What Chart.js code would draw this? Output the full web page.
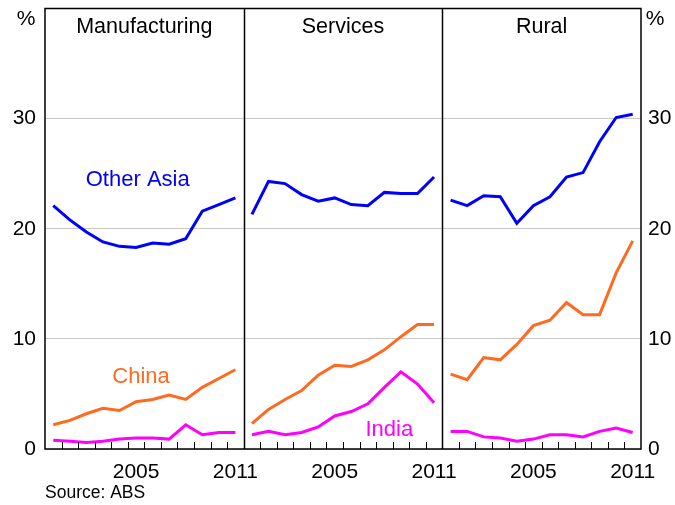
<!DOCTYPE html>
<html>
<head>
<meta charset="utf-8">
<script src="https://cdn.jsdelivr.net/npm/chart.js@4.4.1/dist/chart.umd.min.js"></script>
<style>
  html, body { margin: 0; padding: 0; background: #fff; }
  #wrap { width: 675px; height: 505px; position: relative; }
</style>
</head>
<body>
<div id="wrap"><canvas id="c" width="675" height="505"></canvas></div>
<script>
// ---- data ----
const years = ['2000','2001','2002','2003','2004','2005','2006','2007','2008','2009','2010','2011'];
const panels = ['Manufacturing', 'Services', 'Rural'];
const shownYears = ['2005', '2011'];
const yTicks = [0, 10, 20, 30];

const otherAsiaManufacturing = [22.1, 20.8, 19.7, 18.8, 18.4, 18.3, 18.7, 18.6, 19.1, 21.6, 22.2, 22.8];
const chinaManufacturing     = [2.2, 2.6, 3.2, 3.7, 3.5, 4.3, 4.5, 4.9, 4.5, 5.6, 6.4, 7.2];
const indiaManufacturing     = [0.8, 0.7, 0.6, 0.7, 0.9, 1.0, 1.0, 0.9, 2.2, 1.3, 1.5, 1.5];

const otherAsiaServices = [21.3, 24.3, 24.1, 23.1, 22.5, 22.8, 22.2, 22.1, 23.3, 23.2, 23.2, 24.7];
const chinaServices     = [2.3, 3.6, 4.5, 5.3, 6.7, 7.6, 7.5, 8.1, 9.0, 10.2, 11.3, 11.3];
const indiaServices     = [1.3, 1.6, 1.3, 1.5, 2.0, 3.0, 3.4, 4.1, 5.6, 7.0, 5.9, 4.2];

const otherAsiaRural = [22.6, 22.1, 23.0, 22.9, 20.5, 22.1, 22.9, 24.7, 25.1, 27.9, 30.1, 30.4];
const chinaRural     = [6.8, 6.3, 8.3, 8.1, 9.5, 11.2, 11.7, 13.3, 12.2, 12.2, 16.0, 18.9];
const indiaRural     = [1.6, 1.6, 1.1, 1.0, 0.7, 0.9, 1.3, 1.3, 1.1, 1.6, 1.9, 1.5];

const seriesNames = ['Other Asia', 'China', 'India'];
const seriesColors = ['#0000ff', '#ff6a21', '#ff00ff'];
const panelData = [
  [otherAsiaManufacturing, chinaManufacturing, indiaManufacturing],
  [otherAsiaServices, chinaServices, indiaServices],
  [otherAsiaRural, chinaRural, indiaRural]
];

// series label annotations: [text, panel, yearIndex, value, seriesIndex]
const seriesLabels = [
  ['Other Asia', 0, 5.1, 24.4, 0],
  ['China', 0, 5.3, 6.5, 1],
  ['India', 1, 8.3, 1.7, 2]
];

// ---- build ----
const FONT = "'Liberation Sans', Arial, Helvetica, sans-serif";
const nYears = years.length;
const labels = panels.flatMap(() => years);
const datasets = [];
panelData.forEach((series, p) => {
  series.forEach((vals, s) => {
    const arr = new Array(labels.length).fill(null);
    vals.forEach((v, i) => { arr[p * nYears + i] = v; });
    datasets.push({
      label: seriesNames[s] + ' ' + panels[p],
      data: arr,
      borderColor: seriesColors[s],
      backgroundColor: seriesColors[s],
      borderWidth: 3,
      pointRadius: 0,
      tension: 0,
      spanGaps: false,
      yAxisID: 'y'
    });
  });
});

const decor = {
  id: 'decor',
  afterDatasetsDraw(chart) {
    const ctx = chart.ctx;
    const a = chart.chartArea;
    const xs = chart.scales.x;
    const ys = chart.scales.y;
    ctx.save();
    ctx.strokeStyle = '#000';
    for (let i = 1; i < labels.length; i++) {
      const x = Math.round((xs.getPixelForValue(i - 1) + xs.getPixelForValue(i)) / 2) + 0.5;
      ctx.beginPath();
      if (i % nYears === 0) {
        ctx.lineWidth = 1.5;
        ctx.moveTo(x, a.top);
        ctx.lineTo(x, a.bottom);
      } else {
        ctx.lineWidth = 1;
        ctx.moveTo(x, a.bottom);
        ctx.lineTo(x, a.bottom - 7);
      }
      ctx.stroke();
    }
    ctx.lineWidth = 1.5;
    ctx.strokeRect(a.left, a.top, a.right - a.left, a.bottom - a.top);
    ctx.fillStyle = '#000';
    ctx.font = '21.5px ' + FONT;
    ctx.textAlign = 'center';
    ctx.textBaseline = 'middle';
    panels.forEach((t, p) => {
      const x0 = (xs.getPixelForValue(p * nYears) + xs.getPixelForValue(p * nYears + nYears - 1)) / 2;
      ctx.fillText(t, x0, 27);
    });
    ctx.font = '22px ' + FONT;
    seriesLabels.forEach(([t, p, idx, v, s]) => {
      const i0 = p * nYears + Math.floor(idx);
      const frac = idx - Math.floor(idx);
      const x = xs.getPixelForValue(i0) + frac * (xs.getPixelForValue(i0 + 1) - xs.getPixelForValue(i0));
      ctx.fillStyle = seriesColors[s];
      ctx.fillText(t, x, ys.getPixelForValue(v));
    });
    ctx.fillStyle = '#000';
    ctx.font = '21px ' + FONT;
    ctx.fillText('%', 26, 19);
    ctx.fillText('%', 655, 19);
    ctx.textAlign = 'left';
    ctx.font = '17.5px ' + FONT;
    ctx.fillText('Source: ABS', 45, 493);
    ctx.restore();
  }
};

function fitY(width) {
  return (s) => { s.width = width; s.paddingTop = 0; s.paddingBottom = 0; };
}

new Chart(document.getElementById('c'), {
  type: 'line',
  data: { labels, datasets },
  options: {
    responsive: false,
    animation: false,
    devicePixelRatio: 1,
    layout: { padding: { top: 8.5, left: 0, right: 0, bottom: 0 } },
    plugins: { legend: { display: false }, tooltip: { enabled: false } },
    scales: {
      x: {
        type: 'category',
        offset: true,
        grid: { display: false, drawTicks: false },
        border: { display: false },
        ticks: {
          autoSkip: false,
          maxRotation: 0,
          padding: 11,
          color: '#000',
          font: { family: FONT, size: 21 },
          callback: function (val) {
            const l = this.getLabelForValue(val);
            return shownYears.includes(l) ? l : '';
          }
        },
        afterFit: (s) => { s.height = 56; s.paddingLeft = 0; s.paddingRight = 0; }
      },
      y: {
        position: 'left',
        min: 0, max: 40,
        afterBuildTicks: (s) => { s.ticks = [0, 10, 20, 30, 40].map(v => ({ value: v })); },
        grid: { color: '#c8c8c8', lineWidth: 1, drawTicks: false },
        border: { display: false },
        ticks: {
          padding: 9,
          color: '#000',
          font: { family: FONT, size: 21 },
          callback: (v) => yTicks.includes(v) ? String(v) : ''
        },
        afterFit: fitY(45)
      },
      y2: {
        position: 'right',
        min: 0, max: 40,
        afterBuildTicks: (s) => { s.ticks = [0, 10, 20, 30, 40].map(v => ({ value: v })); },
        grid: { display: false, drawTicks: false },
        border: { display: false },
        ticks: {
          padding: 7,
          color: '#000',
          font: { family: FONT, size: 21 },
          callback: (v) => yTicks.includes(v) ? String(v) : ''
        },
        afterFit: fitY(34)
      }
    }
  },
  plugins: [decor]
});
</script>
</body>
</html>
